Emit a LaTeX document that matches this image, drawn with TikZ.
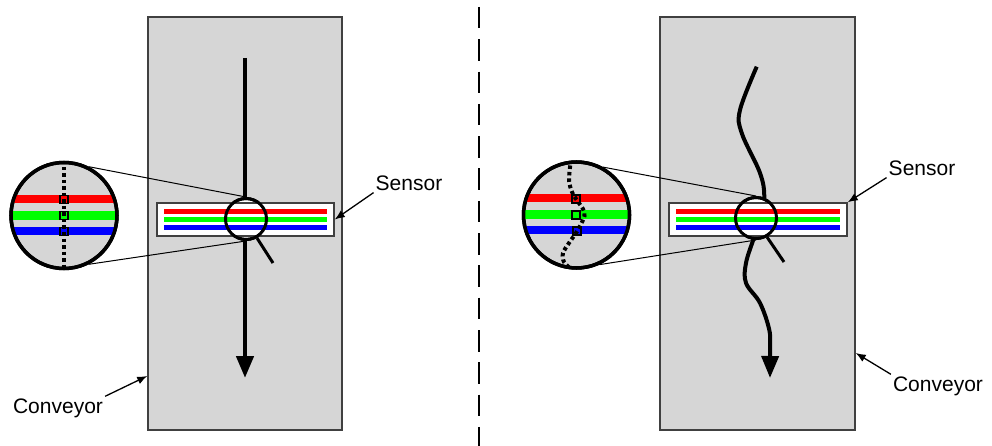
\documentclass[tikz,border=0pt]{standalone}
\usepackage{fontspec}
\setmainfont{Liberation Sans}
\usetikzlibrary{arrows.meta,positioning}

\definecolor{beltgray}{RGB}{214,214,214}
\definecolor{edgegray}{RGB}{64,64,64}

\begin{document}
\begin{tikzpicture}[
    x=1pt, y=-1pt,
    every node/.style={font=\fontsize{21}{25}\selectfont},
    conveyor/.style={draw=edgegray, line width=1.5pt, fill=beltgray, minimum width=194pt, minimum height=413pt, inner sep=0pt},
    sensor/.style={draw=edgegray, line width=1.5pt, fill=white, minimum width=177pt, minimum height=33pt, inner sep=0pt},
    lens/.style={circle, draw, line width=3pt, fill=white, minimum size=41pt, inner sep=0pt},
    magnifier/.style={circle, draw, line width=3.5pt, fill=beltgray, minimum size=106pt, inner sep=0pt},
    note/.style={inner sep=2pt},
    arr/.style={-{Latex[length=10pt,width=8pt]}, line width=1.3pt},
    flow/.style={-{Triangle[length=22pt,width=17pt]}, line width=4.5pt},
    zoomline/.style={line width=1pt},
    divider/.style={line width=2pt, dash pattern=on 21.5pt off 10.8pt},
    probe/.style={line width=1.5pt},
    dots/.style={line width=4pt, dash pattern=on 3.5pt off 3pt}
]
\useasboundingbox (0,0) rectangle (992,446);

% left: straight run
\node[conveyor] (convL) at (245,223.5) {};
\coordinate (flowL-top) at (245,58);
\coordinate (flowL-end) at (245,378);
\draw[flow] (flowL-top) -- (flowL-end);
\node[magnifier] (magL) at (64,215.5) {};
\node[lens] (lensL) at (246,219) {};
\draw[zoomline] (magL.63) -- (lensL.north);
\draw[zoomline] (magL.-63) -- (lensL.south);
\node[sensor] (sensL) at (245.5,219.5) {};
\foreach \c/\dy in {red/8,green/0,blue/-8}
  \draw[\c, line width=5pt] ([xshift=8pt,yshift=\dy pt]sensL.west) -- ([xshift=-8pt,yshift=\dy pt]sensL.east);
\draw[line width=3pt] (lensL.center) circle[radius=20.5pt];
\coordinate (handleL) at (273,263);
\draw[line width=3pt] (lensL.-60) -- (handleL);
\begin{scope}[shift={(magL.center)}]
  \clip (0,0) circle[radius=53pt];
  \fill[red] (-60,-20.5) rectangle (60,-12.5);
  \fill[green] (-60,-4.5) rectangle (60,4.5);
  \fill[blue] (-60,11.5) rectangle (60,19.5);
  \draw[dots] (0,-55) -- (0,55);
  \foreach \dy in {-16,0,16}
    \draw[probe] (-4,\dy-4) rectangle (4,\dy+4);
\end{scope}
\draw[line width=3.5pt] (magL.center) circle[radius=53pt];
\node[note] (sensLbl) at (409,183) {Sensor};
\draw[arr] (sensLbl.south west) -- (sensL.east);
\node[note] (convLbl) at (58,408) {Conveyor};
\coordinate (convL-mark) at ([yshift=-152.5pt]convL.west);
\draw[arr] (convLbl.north east) -- (convL-mark);

% divider
\coordinate (divTop) at (479,7);
\coordinate (divBot) at (479,446);
\draw[divider] (divTop) -- (divBot);

% right: wandering run
\node[conveyor, minimum width=195pt] (convR) at (757.5,223.5) {};
\draw[flow, line width=4pt] plot[smooth, tension=0.6] coordinates {(756.7,66.7) (740,110) (741.7,133) (760,173) (764.3,197) (760,218) (754.3,236.7) (746,263) (746,283) (760,303) (769.3,330) (770,350) (770,378)};
\node[magnifier] (magR) at (576.5,215) {};
\node[lens] (lensR) at (756,218) {};
\draw[zoomline] (magR.61) -- (lensR.north);
\draw[zoomline] (magR.-65) -- (lensR.south);
\node[sensor, minimum width=178pt] (sensR) at (758,219.5) {};
\foreach \c/\dy in {red/8,green/0,blue/-8}
  \draw[\c, line width=5pt] ([xshift=8pt,yshift=\dy pt]sensR.west) -- ([xshift=-8pt,yshift=\dy pt]sensR.east);
\draw[line width=3pt] (lensR.center) circle[radius=20.5pt];
\coordinate (handleR) at (784,262);
\draw[line width=3pt] (lensR.-60) -- (handleR);
\begin{scope}[shift={(magR.center)}]
  \clip (0,0) circle[radius=53pt];
  \fill[red] (-60,-20.5) rectangle (60,-12.5);
  \fill[green] (-60,-4.5) rectangle (60,4.5);
  \fill[blue] (-60,11.5) rectangle (60,19.5);
  \draw[dots] plot[smooth] coordinates {(-5.5,-56) (-7.5,-35) (-4.5,-23) (-0.5,-16) (6.5,-6) (8,1) (3.5,11) (-0.5,18) (-7.5,28) (-13.5,38) (-12.5,47) (-4.5,55)};
  \foreach \dx/\dy in {-0.5/-16,-0.5/0,0.5/16}
    \draw[probe] (\dx-4,\dy-4) rectangle (\dx+4,\dy+4);
\end{scope}
\draw[line width=3.5pt] (magR.center) circle[radius=53pt];
\node[note] (sensRLbl) at (922,168) {Sensor};
\draw[arr] (sensRLbl.south west) -- (sensR.north east);
\node[note] (convRLbl) at (938,386) {Conveyor};
\coordinate (convR-mark) at ([yshift=-129.5pt]convR.east);
\draw[arr] (convRLbl.north west) -- (convR-mark);
\end{tikzpicture}
\end{document}
